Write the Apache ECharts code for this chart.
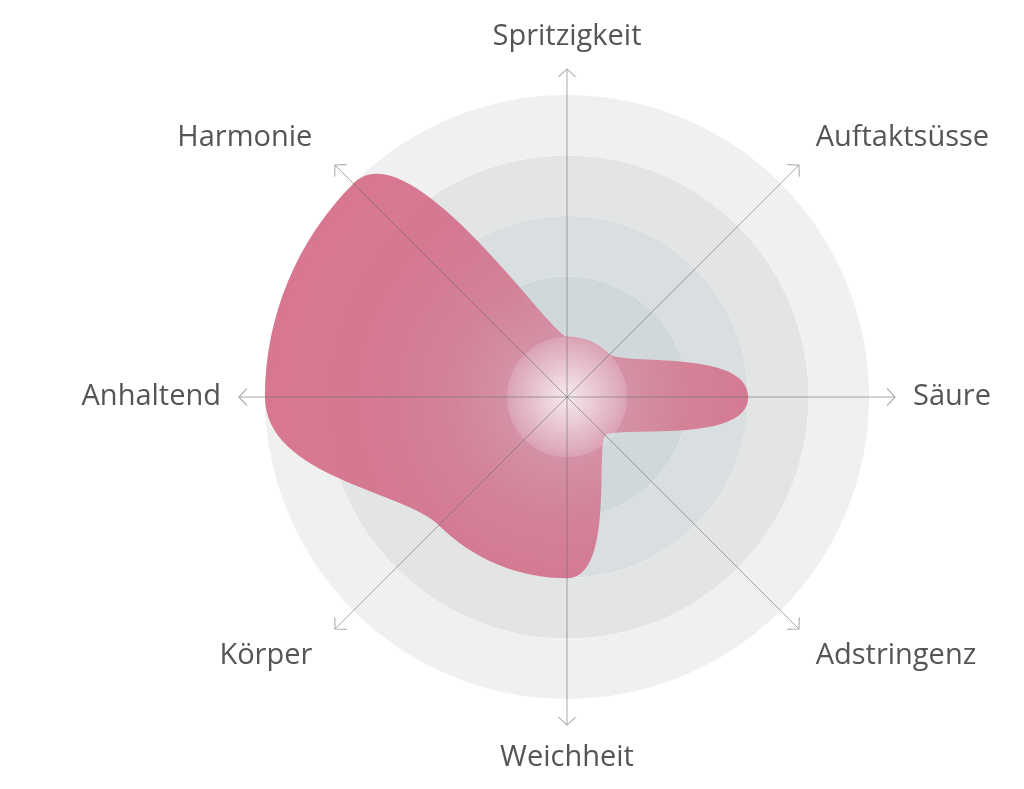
<!DOCTYPE html>
<html lang="de">
<head>
<meta charset="UTF-8">
<title>Weinprofil</title>
<script src="https://cdn.jsdelivr.net/npm/echarts@6/dist/echarts.min.js"></script>
<style>html, body { margin: 0; background: #fff; }</style>
</head>
<body>
<div id="main" style="width:1024px;height:789px;"></div>
<script>
// Achsen im Uhrzeigersinn, oben beginnend
var categories = ['Spritzigkeit', 'Auftaktsüsse', 'Säure', 'Adstringenz', 'Weichheit', 'Körper', 'Anhaltend', 'Harmonie'];
var values = [1, 1, 3, 0.9, 3, 3, 5, 5];
var ringColors = ['#cdd5d8', '#d0d8db', '#d9dee0', '#e3e5e5', '#f0f0f0', 'rgba(0,0,0,0)'];
var scaleMax = 5.43;
var arrowPos = 5.365;

var chart = echarts.init(document.getElementById('main'));

var shapeData = values.map(function (v, i) { return [v, i]; });

var arrowData = categories.map(function (c, i) {
    return { value: [arrowPos, i], symbolRotate: -45 * i };
});

// Beschriftungen der Diagonalen etwas nachschieben
var axisData = categories.map(function (c, i) {
    if (i === 5 || i === 7) {
        return { value: c, textStyle: { padding: [0, 10, 0, 0] } };
    }
    if (i === 1 || i === 3) {
        return { value: c, textStyle: { padding: [0, 0, 0, 4] } };
    }
    return c;
});

// Henkel wie bei Kreisbögen zwischen zwei Achsen
var handleK = 4 / 3 * Math.tan(Math.PI / (2 * categories.length));

function renderShape(params, api) {
    if (params.dataIndex !== 0) {
        return;
    }
    var c = api.coord([0, 0]);
    var outer = api.coord([scaleMax, 0]);
    var R = Math.abs(c[1] - outer[1]);
    var pts = shapeData.map(function (d) { return api.coord(d); });
    var n = pts.length;
    function handle(i, sign) {
        var p = pts[i];
        var dx = p[0] - c[0], dy = p[1] - c[1];
        return [p[0] - sign * handleK * dy, p[1] + sign * handleK * dx];
    }
    var d = 'M' + pts[0][0] + ',' + pts[0][1];
    for (var i = 0; i < n; i++) {
        var j = (i + 1) % n;
        var a = handle(i, 1), b = handle(j, -1);
        d += ' C' + a[0] + ',' + a[1] + ' ' + b[0] + ',' + b[1] + ' ' + pts[j][0] + ',' + pts[j][1];
    }
    d += ' Z';
    return {
        type: 'path',
        shape: { pathData: d },
        style: {
            fill: {
                type: 'radial', x: c[0], y: c[1], r: R, global: true,
                colorStops: [
                    { offset: 0, color: '#dfa5b6' },
                    { offset: 0.18, color: '#d5869d' },
                    { offset: 0.37, color: '#d3738d' },
                    { offset: 0.6, color: '#d26884' },
                    { offset: 1, color: '#d4627f' }
                ]
            },
            opacity: 0.86
        }
    };
}

var option = {
    backgroundColor: '#fff',
    animation: false,
    polar: {
        center: [567, 397],
        radius: 328
    },
    angleAxis: {
        type: 'category',
        data: axisData,
        startAngle: 90,
        boundaryGap: false,
        z: 5,
        axisLine: { show: false },
        axisTick: { show: false },
        axisLabel: {
            margin: 18,
            fontSize: 29,
            color: '#555',
            fontFamily: 'Open Sans'
        },
        splitLine: {
            show: true,
            lineStyle: { color: 'rgba(110,110,110,0.6)', width: 1 }
        }
    },
    radiusAxis: {
        min: 0,
        max: scaleMax,
        interval: 1,
        axisLine: { show: false },
        axisTick: { show: false },
        axisLabel: { show: false },
        splitLine: { show: false },
        splitArea: {
            show: true,
            areaStyle: { color: ringColors }
        }
    },
    series: [
        {
            type: 'custom',
            coordinateSystem: 'polar',
            data: shapeData,
            renderItem: renderShape,
            silent: true,
            z: 2
        },
        {
            type: 'scatter',
            coordinateSystem: 'polar',
            data: [[0, 0]],
            symbolSize: 120,
            silent: true,
            itemStyle: {
                color: {
                    type: 'radial', x: 0.5, y: 0.5, r: 0.5,
                    colorStops: [
                        { offset: 0, color: 'rgba(255,255,255,0.9)' },
                        { offset: 0.6, color: 'rgba(255,255,255,0.45)' },
                        { offset: 1, color: 'rgba(255,255,255,0.2)' }
                    ]
                }
            },
            z: 3
        },
        {
            type: 'scatter',
            coordinateSystem: 'polar',
            data: arrowData,
            symbol: 'path://M0,8 L8.5,0 L17,8',
            symbolSize: [17, 8],
            silent: true,
            itemStyle: { color: 'transparent', borderColor: '#999', borderWidth: 1 },
            z: 6
        }
    ]
};

chart.setOption(option);
</script>
</body>
</html>
